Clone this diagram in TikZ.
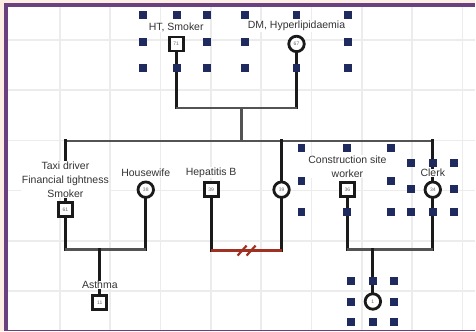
\documentclass[tikz,border=0pt]{standalone}
\usepackage{fontspec}
\setmainfont{Liberation Sans}
\usetikzlibrary{backgrounds}
\definecolor{fon}{HTML}{FCEEE3}
\definecolor{ramka}{HTML}{6B4080}
\definecolor{setka}{HTML}{ECECEC}
\definecolor{marker}{HTML}{1F2A5E}
\definecolor{razvod}{HTML}{A03022}
\definecolor{tekst}{HTML}{333333}
\definecolor{liniya}{HTML}{1A1A1A}
\begin{document}
\begin{tikzpicture}[x=1pt, y=-1pt] % координаты в пикселях, ось y вниз
\tikzstyle{male} = [draw=liniya, rectangle, minimum size=14pt, line width=2.8pt, inner sep=0pt, fill=white, text=black!60, font=\fontsize{5}{5}\selectfont] % мужчина
\tikzstyle{female} = [draw=liniya, circle, minimum size=15.5pt, line width=2.8pt, inner sep=0pt, fill=white, text=black!60, font=\fontsize{5}{5}\selectfont] % женщина
\tikzstyle{lbl} = [fill=white, inner sep=0.5pt, align=center, text=tekst, font=\fontsize{10.5}{14}\selectfont, label distance=3pt] % подпись над узлом
\tikzstyle{vline} = [draw=liniya, line width=3pt, line cap=rect] % вертикальные линии
\tikzstyle{hline} = [draw=liniya!75, line width=2.4pt] % горизонтальные линии
\tikzstyle{sepline} = [draw=razvod, line width=2.2pt] % развод

% узлы
\node[male, label={[lbl]above:HT, Smoker}] (gf) at (176.5,44) {71};
\node[female, label={[lbl]above:DM, Hyperlipidaemia}] (gm) at (297,44) {67};
\node[male, label={[lbl]above:{Taxi driver\\Financial tightness\\Smoker}}] (taxi) at (65.5,210) {61};
\node[female, label={[lbl]above:Housewife}] (wife) at (146,190) {38};
\node[male, label={[lbl]above:Hepatitis B}] (hepb) at (211.5,190) {39};
\node[female] (sis) at (282,190) {39};
\node[male, label={[lbl]above:{Construction site\\worker}}] (cons) at (348,190) {36};
\node[female, label={[lbl]above:Clerk}] (clerk) at (433.5,190) {34};
\node[male, label={[lbl, label distance=4.5pt]above:Asthma}] (son) at (100,303) {11};
\node[female] (baby) at (373.5,302) {1};

\coordinate (cpl1) at (242,108); % брак бабушки и дедушки
\coordinate (sib) at (242,141);  % линия сиблингов
\coordinate (cpl2) at (100,250);
\coordinate (razr) at (247,251);
\coordinate (cpl3) at (373.5,250);

\begin{scope}[on background layer]
% фон, рамка и сетка
\fill[fon] (0,0) rectangle (476,332);
\fill[ramka] (4,3) rectangle (476,332);
\fill[white] (8,7) rectangle (476,330.5);
\foreach \gx in {60,110.4,...,465} \draw[setka, line width=1.6pt] (\gx,7) -- (\gx,330.5);
\foreach \gy in {40,90.3,...,292} \draw[setka, line width=1.6pt] (8,\gy) -- (476,\gy);

% линии
\draw[vline] (gf.south) -- (gf |- cpl1);
\draw[vline] (gm.south) -- (gm |- cpl1);
\draw[hline] (gf |- cpl1) -- (gm |- cpl1);
\draw[hline] (cpl1) -- (sib);
\draw[hline] (taxi |- sib) -- (clerk |- sib);
\draw[vline] (taxi |- sib) -- (taxi.north);
\draw[vline] (sis |- sib) -- (sis.north);
\draw[vline] (clerk |- sib) -- (clerk.north);

\draw[vline] (taxi.south) -- (taxi |- cpl2);
\draw[vline] (wife.south) -- (wife |- cpl2);
\draw[hline] (taxi |- cpl2) -- (wife |- cpl2);
\draw[vline] (cpl2) -- (son.north);

\draw[vline] (hepb.south) -- (hepb |- razr);
\draw[vline] (sis.south) -- (sis |- razr);
\draw[sepline] (hepb |- razr) -- (sis |- razr);
\draw[sepline] (razr) ++(-9,5) -- ++(9,-10);
\draw[sepline] (razr) ++(0,5) -- ++(9,-10);

\draw[vline] (cons.south) -- (cons |- cpl3);
\draw[vline] (clerk.south) -- (clerk |- cpl3);
\draw[hline] (cons |- cpl3) -- (clerk |- cpl3);
\draw[vline] (cpl3) -- (baby.north);
\end{scope}

% маркеры выделения
\foreach \xa/\xb/\xc/\ya/\yb/\yc in {143/177/207/15/42/68, 245/297/349/15/42/68, 302/348/392/148/181/212, 412/433.5/455/163/189/212, 352/373.5/395/281/302.5/323}
  \foreach \hx/\hy in {\xa/\ya, \xb/\ya, \xc/\ya, \xa/\yb, \xc/\yb, \xa/\yc, \xb/\yc, \xc/\yc}
    \fill[marker] (\hx,\hy) ++(-4,-4) rectangle ++(8,8);
\end{tikzpicture}
\end{document}
